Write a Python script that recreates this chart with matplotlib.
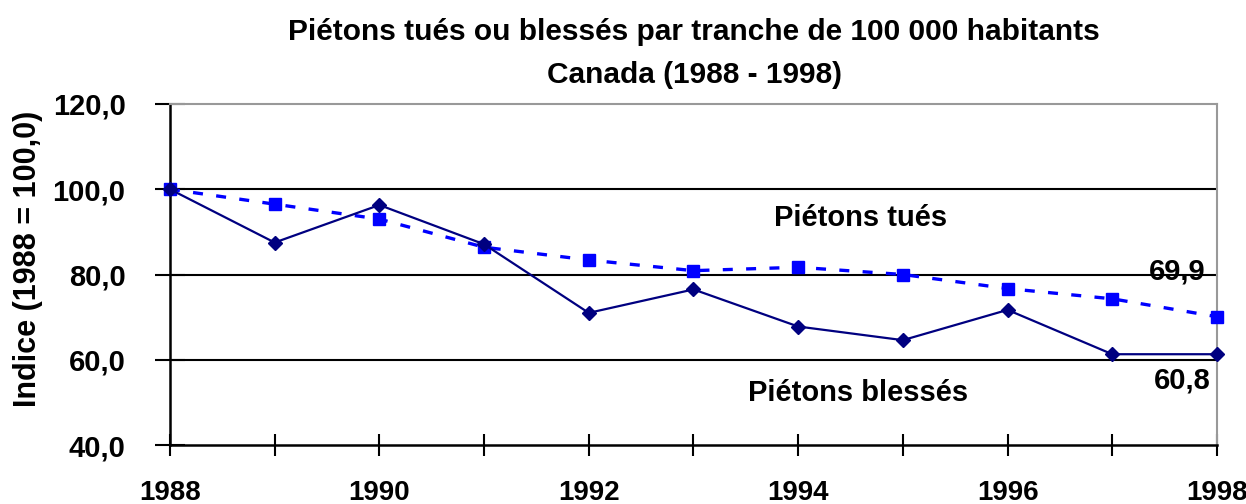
import matplotlib.pyplot as plt

plt.rcParams['font.family'] = ['Liberation Sans', 'DejaVu Sans']
plt.rcParams['font.weight'] = 'bold'

years = [1988, 1989, 1990, 1991, 1992, 1993, 1994, 1995, 1996, 1997, 1998]
blesses = [100.0, 87.5, 96.3, 87.1, 71.0, 76.5, 67.8, 64.6, 71.7, 61.3, 61.3]
tues = [100.0, 96.5, 93.0, 86.4, 83.4, 80.9, 81.7, 80.0, 76.7, 74.3, 70.1]
yticks = [40, 60, 80, 100, 120]
xticks = [1988, 1990, 1992, 1994, 1996, 1998]

fig = plt.figure(figsize=(12.46, 5.04), dpi=100)
ax = fig.add_axes([0.1364, 0.117, 0.8403, 0.6767])

for v in [60, 80, 100]:
    ax.axhline(v, color='black', lw=1.5, zorder=1)

ax.plot(years, tues, color='#0000FF', lw=2.4, ls=(0, (3, 4)),
        marker='s', ms=8, mec='#0000FF', mfc='#0000FF', zorder=3, clip_on=False)
ax.plot(years, blesses, color='#000080', lw=1.6,
        marker='D', ms=7, mec='#000080', mfc='#000080', zorder=4, clip_on=False)

ax.set_xlim(1988, 1998)
ax.set_ylim(40, 120)
ax.set_xticks(xticks)
ax.set_xticks(years, minor=True)
ax.set_xticklabels([str(x) for x in xticks], fontsize=20, fontweight='bold')
ax.set_yticks(yticks)
ax.set_yticklabels([f"{v},0" for v in yticks], fontsize=21, fontweight='bold')
ax.tick_params(axis='x', which='both', direction='inout', length=16, width=1.5, pad=17)
ax.tick_params(axis='y', direction='inout', length=22, width=1.5, pad=21)
ax.tick_params(axis='x', which='minor', labelbottom=False)

ax.spines['left'].set_linewidth(1.8)
ax.spines['bottom'].set_linewidth(1.8)
ax.spines['top'].set_color('#999999')
ax.spines['top'].set_linewidth(1.5)
ax.spines['right'].set_color('#999999')
ax.spines['right'].set_linewidth(1.5)

fig.text(0.0225, 0.486, "Indice (1988 = 100,0)", fontsize=22, fontweight='bold',
         rotation=90, ha='center', va='center')

ax.text(1994.6, 93.3, "Piétons tués", fontsize=21, fontweight='bold',
        ha='center', va='center')
ax.text(1994.57, 52.2, "Piétons blessés", fontsize=21, fontweight='bold',
        ha='center', va='center')
ax.text(1997.62, 80.6, "69,9", fontsize=21, fontweight='bold', ha='center', va='center')
ax.text(1997.67, 55.2, "60,8", fontsize=21, fontweight='bold', ha='center', va='center')

fig.text(0.557, 0.937, "Piétons tués ou blessés par tranche de 100 000 habitants",
         fontsize=21.5, fontweight='bold', ha='center', va='center')
fig.text(0.557, 0.851, "Canada (1988 - 1998)", fontsize=21.5, fontweight='bold',
         ha='center', va='center')

fig.savefig("out.png", dpi=100)
